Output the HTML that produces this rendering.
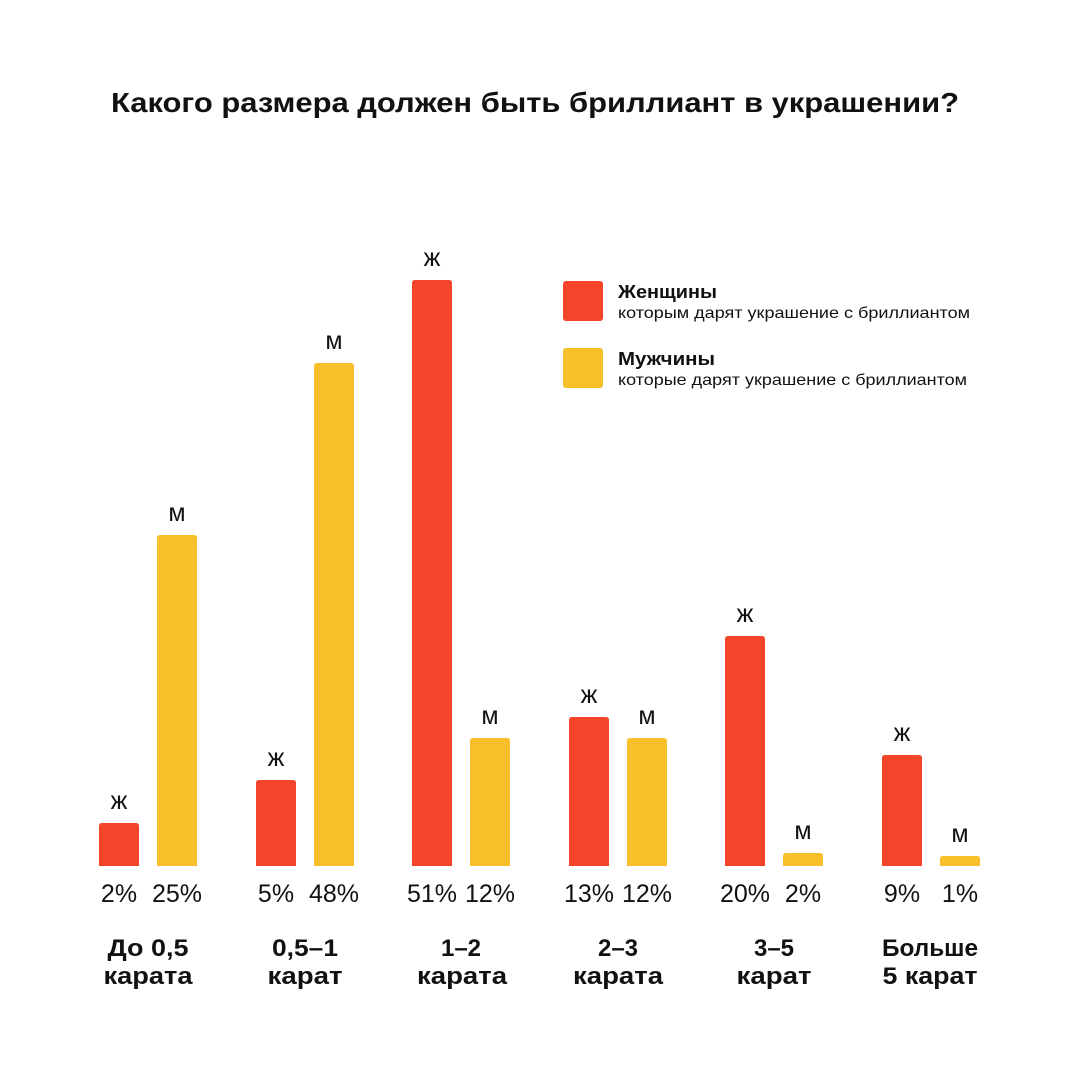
<!DOCTYPE html>
<html>
<head>
<meta charset="utf-8">
<style>
  html, body { margin: 0; padding: 0; background: #ffffff; }
  body { width: 1080px; height: 1080px; overflow: hidden; }
  svg { display: block; }
  text { font-family: "Liberation Sans", "Noto Sans CJK SC", sans-serif; fill: #111111; }
  .t { font-size: 28px; font-weight: bold; }
  .lbl { font-size: 25px; text-anchor: middle; }
  .pct { font-size: 25px; text-anchor: middle; }
  .cat { font-size: 24px; font-weight: bold; text-anchor: middle; }
  .lh { font-size: 18px; font-weight: bold; }
  .ls { font-size: 16px; }
</style>
</head>
<body>
<svg width="1080" height="1080" viewBox="0 0 1080 1080" xmlns="http://www.w3.org/2000/svg">
  <rect width="1080" height="1080" fill="#ffffff"/>

  <!-- Title -->
  <text class="t" x="111" y="112" textLength="848" lengthAdjust="spacingAndGlyphs">Какого размера должен быть бриллиант в украшении?</text>

  <!-- Legend -->
  <rect x="563" y="281" width="40" height="40" rx="3" fill="#F4452A"/>
  <text class="lh" x="618" y="298" textLength="99" lengthAdjust="spacingAndGlyphs">Женщины</text>
  <text class="ls" x="618" y="318" textLength="352" lengthAdjust="spacingAndGlyphs">которым дарят украшение с бриллиантом</text>

  <rect x="563" y="348" width="40" height="40" rx="3" fill="#F7C02B"/>
  <text class="lh" x="618" y="365" textLength="97" lengthAdjust="spacingAndGlyphs">Мужчины</text>
  <text class="ls" x="618" y="385" textLength="349" lengthAdjust="spacingAndGlyphs">которые дарят украшение с бриллиантом</text>

  <!-- Bars -->
  <g>
    <path d="M99,866 V826 Q99,823 102,823 H136 Q139,823 139,826 V866 Z" fill="#F4452A"/>
    <path d="M157,866 V538 Q157,535 160,535 H194 Q197,535 197,538 V866 Z" fill="#F7C02B"/>
    <path d="M256,866 V783 Q256,780 259,780 H293 Q296,780 296,783 V866 Z" fill="#F4452A"/>
    <path d="M314,866 V366 Q314,363 317,363 H351 Q354,363 354,366 V866 Z" fill="#F7C02B"/>
    <path d="M412,866 V283 Q412,280 415,280 H449 Q452,280 452,283 V866 Z" fill="#F4452A"/>
    <path d="M470,866 V741 Q470,738 473,738 H507 Q510,738 510,741 V866 Z" fill="#F7C02B"/>
    <path d="M569,866 V720 Q569,717 572,717 H606 Q609,717 609,720 V866 Z" fill="#F4452A"/>
    <path d="M627,866 V741 Q627,738 630,738 H664 Q667,738 667,741 V866 Z" fill="#F7C02B"/>
    <path d="M725,866 V639 Q725,636 728,636 H762 Q765,636 765,639 V866 Z" fill="#F4452A"/>
    <path d="M783,866 V856 Q783,853 786,853 H820 Q823,853 823,856 V866 Z" fill="#F7C02B"/>
    <path d="M882,866 V758 Q882,755 885,755 H919 Q922,755 922,758 V866 Z" fill="#F4452A"/>
    <path d="M940,866 V859 Q940,856 943,856 H977 Q980,856 980,859 V866 Z" fill="#F7C02B"/>
  </g>

  <!-- ж / м labels -->
  <g>
    <text class="lbl" x="119" y="809">ж</text>
    <text class="lbl" x="177" y="521">м</text>
    <text class="lbl" x="276" y="766">ж</text>
    <text class="lbl" x="334" y="349">м</text>
    <text class="lbl" x="432" y="266">ж</text>
    <text class="lbl" x="490" y="724">м</text>
    <text class="lbl" x="589" y="703">ж</text>
    <text class="lbl" x="647" y="724">м</text>
    <text class="lbl" x="745" y="622">ж</text>
    <text class="lbl" x="803" y="839">м</text>
    <text class="lbl" x="902" y="741">ж</text>
    <text class="lbl" x="960" y="842">м</text>
  </g>

  <!-- Percentages -->
  <g>
    <text class="pct" x="119" y="902">2%</text>
    <text class="pct" x="177" y="902">25%</text>
    <text class="pct" x="276" y="902">5%</text>
    <text class="pct" x="334" y="902">48%</text>
    <text class="pct" x="432" y="902">51%</text>
    <text class="pct" x="490" y="902">12%</text>
    <text class="pct" x="589" y="902">13%</text>
    <text class="pct" x="647" y="902">12%</text>
    <text class="pct" x="745" y="902">20%</text>
    <text class="pct" x="803" y="902">2%</text>
    <text class="pct" x="902" y="902">9%</text>
    <text class="pct" x="960" y="902">1%</text>
  </g>

  <!-- Category labels -->
  <g>
    <text class="cat" x="148" y="956" textLength="81" lengthAdjust="spacingAndGlyphs">До 0,5</text>
    <text class="cat" x="148" y="984" textLength="89" lengthAdjust="spacingAndGlyphs">карата</text>
    <text class="cat" x="305" y="956" textLength="66" lengthAdjust="spacingAndGlyphs">0,5–1</text>
    <text class="cat" x="305" y="984" textLength="75" lengthAdjust="spacingAndGlyphs">карат</text>
    <text class="cat" x="461" y="956">1–2</text>
    <text class="cat" x="462" y="984" textLength="90" lengthAdjust="spacingAndGlyphs">карата</text>
    <text class="cat" x="618" y="956">2–3</text>
    <text class="cat" x="618" y="984" textLength="90" lengthAdjust="spacingAndGlyphs">карата</text>
    <text class="cat" x="774" y="956">3–5</text>
    <text class="cat" x="774" y="984" textLength="75" lengthAdjust="spacingAndGlyphs">карат</text>
    <text class="cat" x="930" y="956" textLength="96" lengthAdjust="spacingAndGlyphs">Больше</text>
    <text class="cat" x="930" y="984" textLength="95" lengthAdjust="spacingAndGlyphs">5 карат</text>
  </g>
</svg>
</body>
</html>
